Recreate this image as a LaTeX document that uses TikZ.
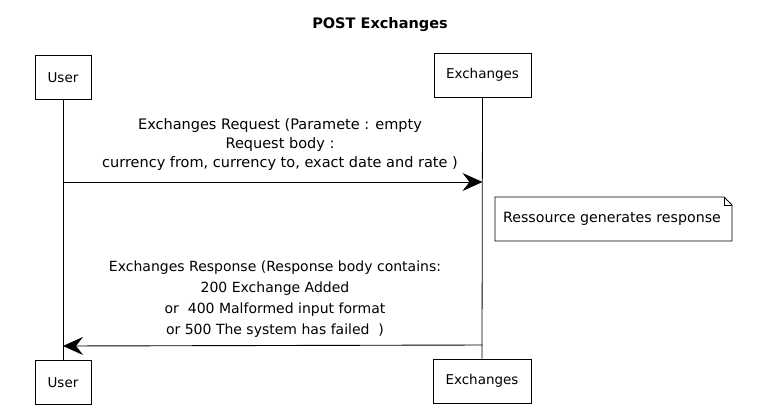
\documentclass[tikz,border=0pt]{standalone}
\usepackage{fontspec}
\setmainfont{DejaVu Sans}
\usetikzlibrary{arrows.meta,calc}
\begin{document}
\begin{tikzpicture}[x=1pt,y=-1pt,
  actor/.style={draw,line width=0.9pt,minimum height=44pt,inner sep=0pt,font=\fontsize{13.5}{15}\selectfont},
  lifeline/.style={line width=0.8pt},
  msg/.style={line width=0.9pt,-{Stealth[length=20pt,width=18pt,inset=7pt]}},
  reqtext/.style={align=center,font=\fontsize{14.5}{19}\selectfont,inner sep=0pt},
  restext/.style={align=center,font=\fontsize{14}{21}\selectfont,inner sep=0pt},
  notetext/.style={font=\fontsize{14.2}{15}\selectfont,inner sep=0pt}]
\useasboundingbox (0,0) rectangle (758,408);
% title
\node[font=\bfseries\fontsize{14.5}{16}\selectfont] (title) at (380,25) {POST Exchanges};
% participants
\node[actor,minimum width=56pt] (utop) at (63,77.5) {User};
\node[actor,minimum width=97pt] (etop) at (482.5,75) {Exchanges};
\node[actor,minimum width=56pt] (ubot) at (63,382.5) {User};
\node[actor,minimum width=98pt] (ebot) at (482,381) {Exchanges};
% lifelines
\draw[lifeline] (utop.south) -- (ubot.north);
\draw[lifeline] (etop.south) -- (ebot.north);
% message anchors on the lifelines
\coordinate (reqA) at (utop.south |- 0,182);
\coordinate (reqB) at (etop.south |- 0,182);
\coordinate (resA) at (etop.south |- 0,345);
\coordinate (resB) at (utop.south |- 0,346);
% request
\draw[msg] (reqA) -- (reqB);
\node[reqtext] (reqlbl) at (280,144) {Exchanges Request (Paramete : empty\\Request body :\\currency from, currency to, exact date and rate )};
% note
\node[notetext] (note) at (612,219) {Ressource generates response};
\draw[line width=0.8pt] (495,197) -- (724,197) -- (732,205) -- (732,241) -- (495,241) -- cycle;
\draw[line width=0.6pt] (724,197) -- (724,205) -- (732,205);
% response
\draw[msg] (resA) -- (resB);
\node[restext] (reslbl) at (275,299.5) {Exchanges Response (Response body contains:\\200 Exchange Added\\or \ 400 Malformed input format\\or 500 The system has failed \ )};
\end{tikzpicture}
\end{document}
